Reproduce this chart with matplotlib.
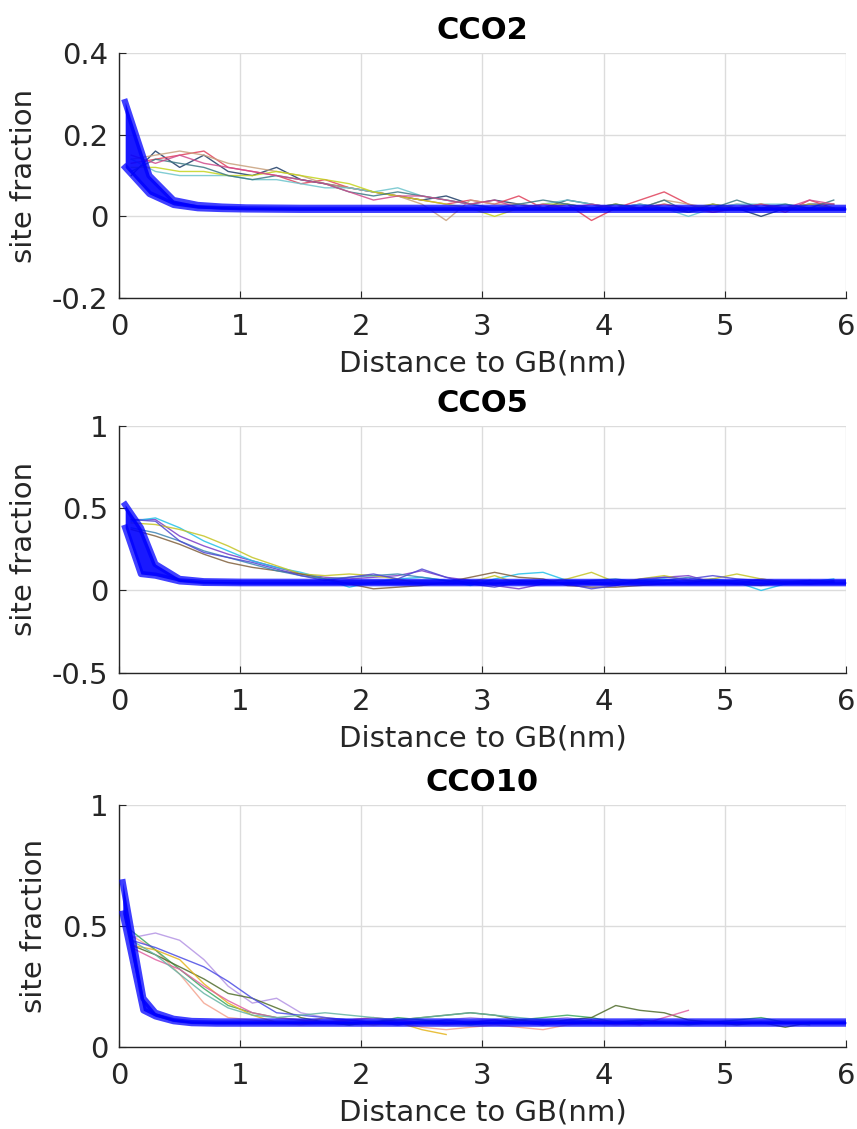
import matplotlib
matplotlib.use("Agg")
import matplotlib.pyplot as plt
import numpy as np

plt.rcParams['font.family'] = ['DejaVu Sans']

# distance grid (nm) of the sampled profiles
dist = [0.1, 0.3, 0.5, 0.7, 0.9, 1.1, 1.3, 1.5, 1.7, 1.9,
        2.1, 2.3, 2.5, 2.7, 2.9, 3.1, 3.3, 3.5, 3.7, 3.9,
        4.1, 4.3, 4.5, 4.7, 4.9, 5.1, 5.3, 5.5, 5.7, 5.9]

# ---- CCO2 measured profiles
cco2_colors = ['#1d3c66', '#e0405a', '#c8a07c', '#6cc4cc', '#c4d41c', '#3c7884', '#d04c8c']
cco2_lines = [
    [0.10, 0.16, 0.12, 0.15, 0.11, 0.10, 0.12, 0.09, 0.08, 0.07, 0.06, 0.05, 0.04, 0.05, 0.03,
     0.04, 0.03, 0.02, 0.04, 0.03, 0.02, 0.03, 0.02, 0.01, 0.03, 0.02, 0.00, 0.02, 0.03, 0.03],
    [0.13, 0.14, 0.15, 0.16, 0.12, 0.11, 0.10, 0.08, 0.09, 0.07, 0.06, 0.05, 0.04, 0.03, 0.04,
     0.03, 0.05, 0.02, 0.03, -0.01, 0.02, 0.04, 0.06, 0.03, 0.01, 0.02, 0.03, 0.01, 0.04, 0.02],
    [0.14, 0.15, 0.16, 0.15, 0.13, 0.12, 0.11, 0.10, 0.08, 0.07, 0.06, 0.05, 0.03, -0.01, 0.04,
     0.03, 0.03, 0.02, 0.03, 0.02, 0.03, 0.02, 0.04, 0.03, 0.02, 0.03, 0.02, 0.02, 0.03, 0.02],
    [0.14, 0.11, 0.10, 0.10, 0.10, 0.09, 0.09, 0.08, 0.07, 0.07, 0.06, 0.07, 0.05, 0.04, 0.03,
     0.02, 0.02, 0.03, 0.04, 0.03, 0.02, 0.03, 0.02, 0.00, 0.02, 0.03, 0.03, 0.03, 0.02, 0.02],
    [0.12, 0.12, 0.11, 0.11, 0.10, 0.10, 0.11, 0.10, 0.09, 0.08, 0.06, 0.05, 0.04, 0.03, 0.02,
     0.00, 0.02, 0.03, 0.03, 0.02, 0.03, 0.02, 0.03, 0.02, 0.03, 0.02, 0.03, 0.02, 0.03, 0.02],
    [0.11, 0.14, 0.13, 0.12, 0.10, 0.09, 0.10, 0.09, 0.08, 0.06, 0.05, 0.06, 0.05, 0.04, 0.03,
     0.02, 0.03, 0.04, 0.03, 0.02, 0.03, 0.02, 0.04, 0.01, 0.02, 0.04, 0.02, 0.03, 0.02, 0.04],
    [0.15, 0.13, 0.15, 0.13, 0.12, 0.11, 0.10, 0.09, 0.08, 0.06, 0.04, 0.05, 0.05, 0.04, 0.03,
     0.04, 0.02, 0.03, 0.02, 0.03, 0.02, 0.02, 0.03, 0.02, 0.01, 0.02, 0.03, 0.02, 0.04, 0.03],
]
# ---- CCO5 measured profiles
cco5_colors = ['#7a3cc8', '#22c0e8', '#c4c424', '#80603c', '#3c84b4', '#5048d4']
cco5_lines = [
    [0.43, 0.43, 0.33, 0.27, 0.22, 0.18, 0.14, 0.10, 0.08, 0.07, 0.08, 0.09, 0.12, 0.08, 0.06,
     0.03, 0.01, 0.04, 0.05, 0.04, 0.03, 0.06, 0.08, 0.09, 0.05, 0.04, 0.07, 0.05, 0.04, 0.06],
    [0.42, 0.44, 0.38, 0.30, 0.24, 0.18, 0.14, 0.11, 0.07, 0.02, 0.05, 0.07, 0.08, 0.06, 0.03,
     0.07, 0.10, 0.11, 0.06, 0.05, 0.04, 0.06, 0.07, 0.04, 0.07, 0.05, 0.00, 0.04, 0.05, 0.07],
    [0.41, 0.40, 0.37, 0.33, 0.27, 0.20, 0.15, 0.10, 0.09, 0.10, 0.09, 0.07, 0.04, 0.04, 0.05,
     0.09, 0.04, 0.05, 0.07, 0.11, 0.05, 0.07, 0.09, 0.06, 0.07, 0.10, 0.07, 0.05, 0.06, 0.05],
    [0.37, 0.33, 0.28, 0.22, 0.17, 0.14, 0.12, 0.10, 0.07, 0.04, 0.01, 0.02, 0.03, 0.05, 0.08,
     0.11, 0.08, 0.07, 0.03, 0.02, 0.02, 0.03, 0.04, 0.05, 0.06, 0.04, 0.03, 0.05, 0.04, 0.05],
    [0.38, 0.35, 0.30, 0.24, 0.20, 0.16, 0.12, 0.09, 0.07, 0.08, 0.09, 0.10, 0.08, 0.06, 0.05,
     0.04, 0.06, 0.05, 0.04, 0.06, 0.07, 0.05, 0.06, 0.08, 0.05, 0.06, 0.04, 0.05, 0.06, 0.05],
    [0.43, 0.42, 0.30, 0.23, 0.20, 0.17, 0.13, 0.09, 0.06, 0.08, 0.10, 0.07, 0.13, 0.08, 0.04,
     0.02, 0.05, 0.06, 0.04, 0.01, 0.03, 0.07, 0.08, 0.07, 0.09, 0.07, 0.06, 0.04, 0.06, 0.05],
]
# ---- CCO10 measured profiles (some stop early)
cco10_colors = ['#b494e4', '#f4a490', '#3ca860', '#506c2c', '#e4b41c', '#e060a0', '#4c4ce4', '#64b4a4']
cco10_lines = [
    [0.45, 0.47, 0.44, 0.36, 0.25, 0.18, 0.20, 0.14, 0.12, 0.11, 0.10, 0.09, 0.10, 0.11, 0.12,
     0.11, 0.10, 0.11, 0.12, 0.10],
    [0.46, 0.40, 0.30, 0.18, 0.12, 0.11, 0.10, 0.09, 0.10, 0.11, 0.12, 0.10, 0.08, 0.07, 0.08,
     0.09, 0.08, 0.07, 0.09, 0.10, 0.09, 0.10],
    [0.48, 0.40, 0.32, 0.24, 0.17, 0.14, 0.12, 0.11, 0.10, 0.09, 0.10, 0.12, 0.11, 0.10, 0.09,
     0.10, 0.11, 0.12, 0.13, 0.12, 0.10, 0.11, 0.10, 0.09, 0.10, 0.11, 0.12, 0.10, 0.09],
    [0.42, 0.38, 0.33, 0.28, 0.22, 0.20, 0.16, 0.12, 0.10, 0.09, 0.10, 0.11, 0.12, 0.13, 0.14,
     0.13, 0.11, 0.10, 0.11, 0.12, 0.17, 0.15, 0.14, 0.11, 0.10, 0.09, 0.10, 0.08, 0.10],
    [0.42, 0.40, 0.36, 0.26, 0.18, 0.13, 0.10, 0.10, 0.12, 0.10, 0.09, 0.10, 0.07, 0.05],
    [0.41, 0.36, 0.32, 0.25, 0.19, 0.14, 0.12, 0.11, 0.10, 0.11, 0.12, 0.11, 0.10, 0.09, 0.10,
     0.11, 0.10, 0.09, 0.10, 0.11, 0.10, 0.09, 0.12, 0.15],
    [0.44, 0.41, 0.37, 0.33, 0.27, 0.20, 0.14, 0.13, 0.12, 0.11, 0.10, 0.09, 0.10, 0.11, 0.10,
     0.11, 0.10, 0.09, 0.11, 0.10],
    [0.44, 0.38, 0.30, 0.22, 0.16, 0.13, 0.12, 0.13, 0.14, 0.13, 0.12, 0.11, 0.12, 0.13, 0.14,
     0.13, 0.12, 0.11, 0.10, 0.11],
]

# ---- model fits (blue band): x, lower and upper envelope
cco2_fit_x = [0.05, 0.25, 0.45, 0.65, 0.85, 1.05, 1.5, 2, 3, 4, 5, 6]
cco2_fit_lo = [0.12, 0.055, 0.028, 0.020, 0.018, 0.017, 0.016, 0.016, 0.016, 0.016, 0.016, 0.016]
cco2_fit_hi = [0.28, 0.100, 0.040, 0.028, 0.024, 0.022, 0.021, 0.021, 0.021, 0.021, 0.021, 0.021]

cco5_fit_x = [0.05, 0.18, 0.3, 0.5, 0.7, 1.0, 2, 3, 4, 5, 6]
cco5_fit_lo = [0.38, 0.10, 0.09, 0.055, 0.046, 0.044, 0.044, 0.044, 0.044, 0.044, 0.044]
cco5_fit_hi = [0.52, 0.38, 0.16, 0.070, 0.056, 0.053, 0.052, 0.052, 0.052, 0.052, 0.052]

cco10_fit_x = [0.03, 0.2, 0.3, 0.45, 0.6, 0.8, 1.0, 2, 3, 4, 5, 6]
cco10_fit_lo = [0.55, 0.15, 0.125, 0.105, 0.097, 0.095, 0.095, 0.095, 0.095, 0.095, 0.095, 0.095]
cco10_fit_hi = [0.68, 0.20, 0.140, 0.115, 0.106, 0.104, 0.104, 0.104, 0.104, 0.104, 0.104, 0.104]

titles = ['CCO2', 'CCO5', 'CCO10']
ylims = [(-0.2, 0.4), (-0.5, 1.0), (0.0, 1.0)]
yticks = [[-0.2, 0, 0.2, 0.4], [-0.5, 0, 0.5, 1], [0, 0.5, 1]]
ytick_labels = [['-0.2', '0', '0.2', '0.4'], ['-0.5', '0', '0.5', '1'], ['0', '0.5', '1']]
xticks = [0, 1, 2, 3, 4, 5, 6]

panels = [
    (cco2_lines, cco2_colors, cco2_fit_x, cco2_fit_lo, cco2_fit_hi),
    (cco5_lines, cco5_colors, cco5_fit_x, cco5_fit_lo, cco5_fit_hi),
    (cco10_lines, cco10_colors, cco10_fit_x, cco10_fit_lo, cco10_fit_hi),
]
boxes = [[0.139, 0.736, 0.848, 0.217],
         [0.139, 0.404, 0.848, 0.219],
         [0.139, 0.073, 0.848, 0.214]]

fig = plt.figure(figsize=(8.57, 11.29), dpi=100)
dark = '#262626'
for i, (lines, colors, fx, flo, fhi) in enumerate(panels):
    ax = fig.add_axes(boxes[i])
    for y, c in zip(lines, colors):
        ax.plot(dist[:len(y)], y, color=c, lw=1.0, alpha=0.85, zorder=2)
    ax.fill_between(fx, flo, fhi, color='#0000ff', alpha=0.9, lw=0, zorder=3)
    ax.plot(fx, flo, color='#0000ff', lw=4.5, alpha=0.75, zorder=3)
    ax.plot(fx, fhi, color='#0000ff', lw=4.5, alpha=0.75, zorder=3)
    ax.set_xlim(0, 6)
    ax.set_ylim(*ylims[i])
    ax.set_xticks(xticks)
    ax.set_yticks(yticks[i])
    ax.set_yticklabels(ytick_labels[i])
    ax.grid(True, color='#dcdcdc', lw=1.0)
    ax.set_axisbelow(True)
    for s in ['top', 'right']:
        ax.spines[s].set_visible(False)
    for s in ['left', 'bottom']:
        ax.spines[s].set_color(dark)
        ax.spines[s].set_linewidth(1.0)
    ax.tick_params(direction='in', length=5, colors=dark, labelsize=21)
    ax.tick_params(axis='x', pad=11)
    ax.tick_params(axis='y', pad=8)
    ax.set_xlabel('Distance to GB(nm)', fontsize=21, color=dark, labelpad=6)
    ax.set_ylabel('site fraction', fontsize=21, color=dark, labelpad=10)
    ax.set_title(titles[i], fontsize=22, fontweight='bold', pad=10)

fig.savefig('out.png', dpi=100)
